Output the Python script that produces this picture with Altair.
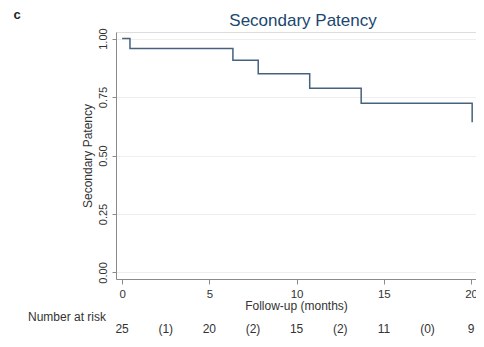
import altair as alt
import pandas as pd

# Kaplan-Meier step values
times = [0.0, 0.45, 6.35, 7.8, 10.75, 13.7, 20.06]
surv = [1.0, 0.957, 0.907, 0.85, 0.788, 0.723, 0.642]

# Number at risk row
risk_times = [0, 2.5, 5, 7.5, 10, 12.5, 15, 17.5, 20]
risk_labels = ["25", "(1)", "20", "(2)", "15", "(2)", "11", "(0)", "9"]

x_ticks = [0, 5, 10, 15, 20]
y_ticks = [0, 0.25, 0.5, 0.75, 1.0]

km = pd.DataFrame({"t": times, "s": surv})
risk = pd.DataFrame({"t": risk_times, "lab": risk_labels})

FONT = "Liberation Sans"
TXT = "#333333"
x_scale = alt.Scale(domain=[-0.35, 20.28], nice=False, zero=False)
y_scale = alt.Scale(domain=[-0.028, 1.028], nice=False, zero=False)

line = alt.Chart(km).mark_line(
    interpolate="step-after", color="#46627e", strokeWidth=1.5, clip=False
).encode(
    x=alt.X("t:Q", scale=x_scale,
            axis=alt.Axis(values=x_ticks, title="Follow-up (months)", grid=False,
                          labelFont=FONT, labelFontSize=11.5, labelColor=TXT,
                          titleFont=FONT, titleFontSize=12, titleFontWeight="normal",
                          titleColor=TXT, titlePadding=1,
                          domainColor="#8a8a8a", tickColor="#8a8a8a",
                          tickSize=5, labelPadding=4, format="d")),
    y=alt.Y("s:Q", scale=y_scale,
            axis=alt.Axis(values=y_ticks, title="Secondary Patency", format=".2f",
                          grid=True, gridColor="#eeeeee",
                          labelAngle=270, labelFont=FONT, labelFontSize=11,
                          labelColor=TXT, labelAlign="center", labelBaseline="bottom",
                          titleFont=FONT, titleFontSize=12, titleFontWeight="normal",
                          titleColor=TXT, titlePadding=3,
                          domainColor="#8a8a8a", tickColor="#8a8a8a",
                          tickSize=4, labelPadding=4)),
)

risk_text = alt.Chart(risk).mark_text(
    font=FONT, fontSize=12, color=TXT, baseline="middle"
).encode(
    x=alt.X("t:Q", scale=x_scale),
    y=alt.value(297),
    text="lab:N",
)

risk_title = alt.Chart(pd.DataFrame({"lab": ["Number at risk"]})).mark_text(
    font=FONT, fontSize=12, color=TXT, align="right", baseline="middle"
).encode(
    x=alt.value(-10),
    y=alt.value(285),
    text="lab:N",
)

title = alt.Chart(pd.DataFrame({"lab": ["Secondary Patency"]})).mark_text(
    font=FONT, fontSize=17, color="#1a476f", align="center", baseline="middle"
).encode(
    x=alt.value(187),
    y=alt.value(-11),
    text="lab:N",
)

panel = alt.Chart(pd.DataFrame({"lab": ["c"]})).mark_text(
    font=FONT, fontSize=13, fontWeight="bold", color="#222222", align="center",
    baseline="middle"
).encode(
    x=alt.value(-99),
    y=alt.value(-17),
    text="lab:N",
)

chart = alt.layer(line, risk_text, risk_title, title, panel).properties(
    width=360, height=247,
    autosize=alt.AutoSizeParams(type="none"),
    padding={"left": 108, "top": 24, "right": 0, "bottom": 58},
).configure_view(stroke=None).configure(background="white")

chart.save("out.html", embed_options={"renderer": "svg", "actions": False})
